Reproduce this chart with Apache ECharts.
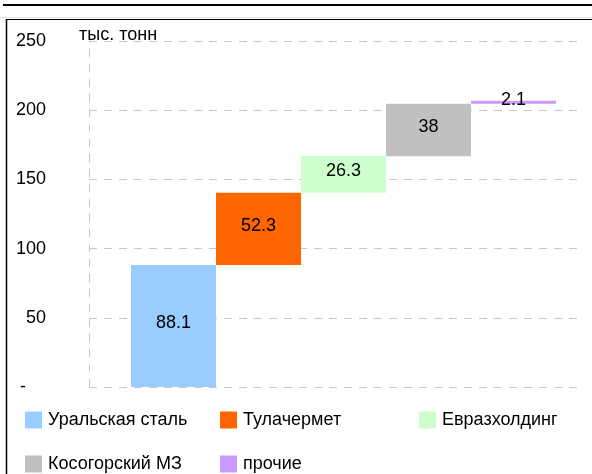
<!DOCTYPE html>
<html>
<head>
<meta charset="utf-8">
<script src="https://cdn.jsdelivr.net/npm/echarts@6/dist/echarts.min.js"></script>
<style>
html,body{margin:0;padding:0;background:#fff;}
#c{width:592px;height:474px;}
</style>
</head>
<body>
<div id="c"></div>
<script>
// ---- data ----
var categories = ['Уральская сталь', 'Тулачермет', 'Евразхолдинг', 'Косогорский МЗ', 'прочие'];
var values = [88.1, 52.3, 26.3, 38, 2.1];
var colors = ['#99CCFF', '#FF6600', '#CCFFCC', '#C0C0C0', '#CC99FF'];
var yTicks = [0, 50, 100, 150, 200, 250];
var unitLabel = 'тыс. тонн';

var FONT = '"Liberation Sans", Arial, sans-serif';
var FS = 18;
var chart = echarts.init(document.getElementById('c'), null, {renderer: 'canvas'});

// invisible base for waterfall built from values
var base = [];
var acc = 0;
for (var i = 0; i < values.length; i++) { base.push(acc); acc += values[i]; }

var series = [{
  name: '_base', type: 'bar', stack: 'w', xAxisIndex: 1, yAxisIndex: 1,
  data: base, barWidth: '100%', itemStyle: {color: 'transparent'},
  silent: true, emphasis: {disabled: true}
}];
categories.forEach(function (name, idx) {
  var d = categories.map(function (_, j) { return j === idx ? values[idx] : '-'; });
  series.push({
    name: name, type: 'bar', stack: 'w', xAxisIndex: 1, yAxisIndex: 1,
    data: d, barWidth: '100%',
    itemStyle: {color: colors[idx]},
    label: {show: true, position: 'inside', color: '#000', fontFamily: FONT, fontSize: FS,
      offset: idx === 4 ? [0, -2] : [0, -3]},
    emphasis: {disabled: true}
  });
});

// legend positions (one legend per item)
var legendPos = [[25, 411], [220, 411], [419, 411], [25, 455], [220, 455]];
var legends = categories.map(function (name, idx) {
  return {
    left: legendPos[idx][0], top: legendPos[idx][1], padding: 0,
    data: [name], itemWidth: 17, itemHeight: 17, icon: 'rect', selectedMode: false,
    textStyle: {fontFamily: FONT, fontSize: FS, color: '#000', padding: [0, 0, 0, 1]}
  };
});

var option = {
  animation: false,
  backgroundColor: '#fff',
  grid: [
    {left: 89, right: 9, top: 41, bottom: 87},
    {left: 131, width: 425, top: 41, bottom: 87}
  ],
  xAxis: [
    {type: 'category', gridIndex: 0, data: [''], show: false},
    {type: 'category', gridIndex: 1, data: categories, show: false}
  ],
  yAxis: [
    {type: 'value', gridIndex: 0, min: 0, max: 250, interval: 50,
      axisLine: {show: true, lineStyle: {color: '#C8C8C8', type: [8, 7], width: 1}},
      axisTick: {show: false},
      splitLine: {show: true, lineStyle: {color: '#C8C8C8', type: [8, 7], width: 1}},
      axisLabel: {
        margin: 43, fontFamily: FONT, fontSize: FS, color: '#000',
        formatter: function (v) { return v === 0 ? '{d|-}' : String(v); },
        rich: {d: {fontFamily: FONT, fontSize: FS, color: '#000', padding: [0, 20, 0, 0]}}
      }
    },
    {type: 'value', gridIndex: 1, min: 0, max: 250, interval: 50, show: false,
      splitLine: {show: false}}
  ],
  legend: legends,
  series: series,
  graphic: [
    {type: 'line', shape: {x1: 3, y1: 5, x2: 592, y2: 5}, style: {stroke: '#000', lineWidth: 2}},
    {type: 'line', shape: {x1: 0, y1: 17.5, x2: 592, y2: 17.5}, style: {stroke: '#E0E0E0', lineWidth: 1}},
    {type: 'line', shape: {x1: 6, y1: 19.5, x2: 592, y2: 19.5}, style: {stroke: '#000', lineWidth: 1}},
    {type: 'line', shape: {x1: 6.5, y1: 19, x2: 6.5, y2: 474}, style: {stroke: '#000', lineWidth: 1.5}},
    {type: 'text', left: 79, top: 26, style: {text: unitLabel, fontFamily: FONT, fontSize: 18, fill: '#000'}}
  ]
};
chart.setOption(option);
</script>
</body>
</html>
